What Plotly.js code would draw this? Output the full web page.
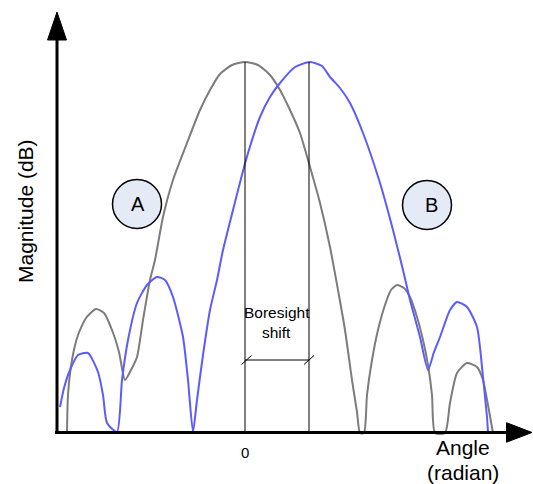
<!DOCTYPE html>
<html>
<head>
<meta charset="utf-8">
<script src="https://cdn.plot.ly/plotly-3.0.1.min.js"></script>
<style>html,body{margin:0;padding:0;background:#fff;}#chart{width:533px;height:484px;}</style>
</head>
<body>
<div id="chart"></div>
<script>
// Angle (arbitrary radian units, 0 = boresight of pattern A), magnitude in dB relative to peak
const angleA = [-1.78,-1.77,-1.73,-1.67,-1.59,-1.49,-1.41,-1.33,-1.26,-1.20,-1.14,-1.08,-1.02,-0.95,-0.90,-0.82,-0.72,-0.58,-0.45,-0.35,-0.25,-0.13,0,0.13,0.25,0.35,0.45,0.55,0.65,0.75,0.85,0.93,1.00,1.07,1.12,1.15,1.19,1.22,1.27,1.33,1.40,1.46,1.52,1.59,1.65,1.72,1.78,1.83,1.87,1.90,2.00,2.05,2.12,2.22,2.32,2.38,2.43,2.48];
const magA   = [-37.1,-33.3,-29.8,-27.3,-25.6,-24.7,-25.1,-26.8,-29.0,-31.8,-30.8,-29.5,-25.8,-21.8,-19.8,-15.5,-11.8,-8.1,-4.8,-2.8,-1.2,-0.3,0,-0.3,-1.3,-2.8,-4.8,-7.1,-10.5,-14.1,-18.5,-22.8,-26.8,-31.8,-35.0,-37.1,-37.1,-33.3,-29.8,-26.8,-24.3,-22.8,-22.3,-22.6,-23.5,-25.5,-27.8,-30.3,-33.3,-37.1,-37.1,-34.1,-31.1,-30.1,-30.5,-31.8,-34.3,-37.1];

const angleB = [-1.85,-1.81,-1.75,-1.67,-1.57,-1.47,-1.42,-1.38,-1.28,-1.23,-1.17,-1.08,-0.98,-0.88,-0.80,-0.72,-0.62,-0.57,-0.52,-0.48,-0.42,-0.35,-0.28,-0.22,-0.12,0.01,0.15,0.25,0.35,0.50,0.65,0.77,0.85,0.95,1.05,1.18,1.35,1.48,1.58,1.65,1.75,1.83,1.89,1.95,2.05,2.12,2.22,2.32,2.38,2.42,2.43];
const magB   = [-34.5,-32.6,-30.8,-29.3,-29.1,-31.0,-33.3,-36.1,-37.0,-31.8,-27.8,-24.1,-22.3,-21.5,-21.8,-23.5,-27.5,-31.8,-37.0,-33.8,-29.3,-24.8,-21.8,-18.8,-14.8,-9.8,-5.5,-3.5,-2.1,-0.5,0,-0.4,-1.5,-2.6,-4.1,-7.1,-12.1,-16.8,-20.8,-23.8,-27.5,-30.8,-29.0,-27.5,-24.8,-24.0,-24.5,-26.5,-31.5,-35.5,-37.0];

const boresightA = 0;
const boresightB = 0.64;
const tickLabels = ["0"];

const FONT = "Liberation Sans, Arial, sans-serif";

const traces = [
  {x: angleA, y: magA, mode: "lines", line: {color: "#7c7c7c", width: 2, shape: "spline", smoothing: 0.6}, hoverinfo: "skip"},
  {x: angleB, y: magB, mode: "lines", line: {color: "#5b5bff", width: 2, shape: "spline", smoothing: 0.6}, hoverinfo: "skip"}
];

const baseY = -37.05;
const shiftY = -29.8;

const shapes = [
  // boresight lines
  {type: "line", x0: boresightA, x1: boresightA, y0: 0, y1: baseY, line: {color: "#000", width: 1}},
  {type: "line", x0: boresightB, x1: boresightB, y0: 0, y1: baseY, line: {color: "#000", width: 1}},
  {type: "line", x0: boresightA, x1: boresightB, y0: shiftY, y1: shiftY, line: {color: "#000", width: 1}},
  {type: "line", x0: boresightA - 0.035, x1: boresightA + 0.065, y0: shiftY - 0.45, y1: shiftY + 0.45, line: {color: "#000", width: 1}},
  {type: "line", x0: boresightB - 0.05, x1: boresightB + 0.05, y0: shiftY - 0.45, y1: shiftY + 0.45, line: {color: "#000", width: 1}},
  // circles
  {type: "circle", x0: -1.325, x1: -0.835, y0: -16.65, y1: -11.75, fillcolor: "#e5ebf6", line: {color: "#000", width: 1.5}},
  {type: "circle", x0: 1.575, x1: 2.065, y0: -16.75, y1: -11.85, fillcolor: "#e5ebf6", line: {color: "#000", width: 1.5}},
  // axes
  {type: "line", x0: -1.88, x1: -1.88, y0: -37.2, y1: 2.4, line: {color: "#000", width: 3}},
  {type: "path", path: "M -1.88,5.0 L -1.975,2.2 L -1.785,2.2 Z", fillcolor: "#000", line: {color: "#000", width: 1}},
  {type: "line", x0: -1.90, x1: 2.64, y0: baseY, y1: baseY, line: {color: "#000", width: 3}},
  {type: "path", path: "M 2.615,-36.07 L 2.87,-37.05 L 2.615,-38.02 Z", fillcolor: "#000", line: {color: "#000", width: 1}}
];

const annotations = [
  {x: -1.075, y: -14.2, text: "A", font: {family: FONT, size: 20, color: "#000"}},
  {x: 1.86, y: -14.3, text: "B", font: {family: FONT, size: 20, color: "#000"}},
  {x: 0.32, y: -25.0, text: "Boresight", font: {family: FONT, size: 15.5, color: "#000"}},
  {x: 0.31, y: -27.0, text: "shift", font: {family: FONT, size: 15.5, color: "#000"}},
  {x: boresightA, y: -39.0, text: tickLabels[0], font: {family: FONT, size: 15, color: "#000"}},
  {x: 2.18, y: -38.55, text: "Angle", font: {family: FONT, size: 21, color: "#000"}},
  {x: 2.18, y: -41.0, text: "(radian)", font: {family: FONT, size: 21, color: "#000"}},
  {x: -2.20, y: -14.9, text: "Magnitude (dB)", textangle: -90, font: {family: FONT, size: 21, color: "#000"}}
].map(a => Object.assign({showarrow: false, xanchor: "center", yanchor: "middle", xref: "x", yref: "y"}, a));

const layout = {
  width: 533, height: 484,
  margin: {l: 0, r: 0, t: 0, b: 0, pad: 0},
  paper_bgcolor: "#fff", plot_bgcolor: "#fff",
  showlegend: false,
  xaxis: {range: [-2.45, 2.88], visible: false, fixedrange: true},
  yaxis: {range: [-42.2, 6.2], visible: false, fixedrange: true},
  shapes: shapes,
  annotations: annotations
};

Plotly.newPlot("chart", traces, layout, {staticPlot: true, displayModeBar: false});
</script>
</body>
</html>
